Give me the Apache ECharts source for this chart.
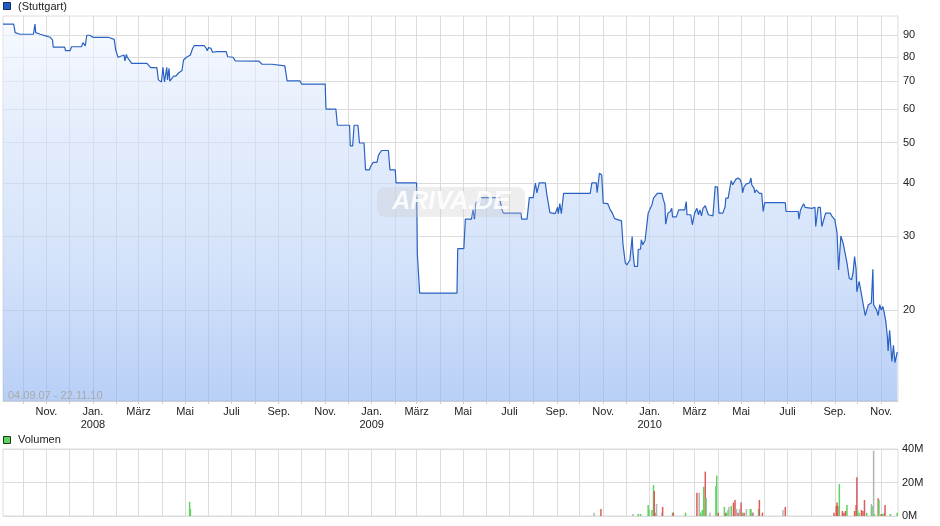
<!DOCTYPE html>
<html><head><meta charset="utf-8">
<script src="https://cdn.jsdelivr.net/npm/echarts@6/dist/echarts.min.js"></script>
<style>html,body{margin:0;padding:0;background:#fff}#c{width:940px;height:526px}</style>
</head><body><div id="c"></div>
<script>
const priceDates = ['2007-09-05','2007-09-19','2007-09-21','2007-09-27','2007-10-15','2007-10-17','2007-10-18','2007-10-24','2007-11-01','2007-11-06','2007-11-09','2007-11-10','2007-11-25','2007-11-26','2007-12-02','2007-12-04','2007-12-17','2007-12-19','2007-12-22','2007-12-24','2007-12-28',
'2008-01-01','2008-01-21','2008-01-29','2008-01-31','2008-02-03','2008-02-11','2008-02-12','2008-02-14','2008-02-15','2008-02-21','2008-03-12','2008-03-14','2008-03-17','2008-03-25','2008-03-27','2008-03-31','2008-04-02','2008-04-04','2008-04-07','2008-04-08','2008-04-10','2008-04-11','2008-04-13','2008-04-16','2008-04-19','2008-04-22','2008-04-27','2008-04-29','2008-05-03','2008-05-08','2008-05-11','2008-05-13','2008-05-26','2008-05-29','2008-05-30','2008-06-01','2008-06-04','2008-06-06','2008-06-11','2008-06-24','2008-06-26','2008-07-03','2008-07-06','2008-08-06','2008-08-10','2008-08-23','2008-08-25','2008-09-09','2008-09-12','2008-09-29','2008-10-01','2008-11-01','2008-11-02','2008-11-15','2008-11-17','2008-12-03','2008-12-04','2008-12-07','2008-12-09','2008-12-14','2008-12-16','2008-12-22','2008-12-24','2008-12-29','2008-12-31',
'2009-01-03','2009-01-08','2009-01-10','2009-01-14','2009-01-23','2009-01-25','2009-02-01','2009-02-02','2009-03-01','2009-03-02','2009-03-05','2009-04-23','2009-04-24','2009-05-02','2009-05-04','2009-05-12','2009-05-14','2009-05-16','2009-05-18','2009-05-21','2009-05-23','2009-06-18','2009-06-21','2009-06-23','2009-07-16','2009-07-17','2009-07-24','2009-07-27','2009-08-01','2009-08-04','2009-08-06','2009-08-09','2009-08-17','2009-08-19','2009-08-23','2009-08-30','2009-09-02','2009-09-03','2009-09-05','2009-09-07','2009-09-10','2009-10-15','2009-10-17','2009-10-23','2009-10-24','2009-10-27','2009-10-30','2009-11-01','2009-11-07','2009-11-10','2009-11-13','2009-11-16','2009-11-18','2009-11-25','2009-11-27','2009-11-30','2009-12-02','2009-12-06','2009-12-09','2009-12-10','2009-12-12','2009-12-16','2009-12-17','2009-12-20','2009-12-21','2009-12-23','2009-12-26','2009-12-28','2009-12-30',
'2010-01-01','2010-01-04','2010-01-06','2010-01-08','2010-01-11','2010-01-17','2010-01-19','2010-01-21','2010-01-22','2010-01-25','2010-01-28','2010-01-30','2010-01-31','2010-02-05','2010-02-08','2010-02-16','2010-02-18','2010-02-19','2010-02-24','2010-02-26','2010-03-01','2010-03-04','2010-03-06','2010-03-08','2010-03-10','2010-03-12','2010-03-15','2010-03-17','2010-03-19','2010-03-25','2010-03-28','2010-03-31','2010-04-02','2010-04-07','2010-04-10','2010-04-11','2010-04-14','2010-04-18','2010-04-20','2010-04-22','2010-04-24','2010-04-27','2010-04-30','2010-05-02','2010-05-03','2010-05-05','2010-05-08','2010-05-12','2010-05-14','2010-05-15','2010-05-18','2010-05-19','2010-05-21','2010-05-25','2010-05-28','2010-05-30','2010-06-01','2010-06-28','2010-06-29','2010-07-15','2010-07-16','2010-07-18','2010-07-22','2010-07-24','2010-08-02','2010-08-06','2010-08-07','2010-08-10','2010-08-13','2010-08-15','2010-08-17','2010-08-20','2010-08-26','2010-08-28','2010-09-01','2010-09-04','2010-09-06','2010-09-09','2010-09-12','2010-09-14','2010-09-17','2010-09-18','2010-09-20','2010-09-23','2010-09-25','2010-09-27','2010-09-29','2010-09-30','2010-10-03','2010-10-05','2010-10-08','2010-10-11','2010-10-13','2010-10-15','2010-10-19','2010-10-21','2010-10-22','2010-10-26','2010-10-28','2010-10-30','2010-11-01','2010-11-03','2010-11-05','2010-11-07','2010-11-09','2010-11-10','2010-11-12','2010-11-15','2010-11-17','2010-11-19','2010-11-20','2010-11-22'];

const prices = [95.7,95.7,91.3,90.5,90.5,95.7,91.3,90.5,89.6,89.0,87.7,84.3,84.3,82.7,82.7,84.5,84.5,86.4,84.9,90.0,90.0,
89.0,89.0,88.0,83.0,79.8,80.8,78.2,81.1,79.8,77.2,77.2,76.5,75.4,75.4,70.5,69.7,75.5,69.7,75.5,70.5,75.1,70.0,69.7,72.0,72.0,73.1,74.2,78.6,79.8,80.8,83.8,85.0,85.0,83.8,82.7,84.1,83.8,82.0,82.3,82.3,80.0,79.8,78.2,78.1,76.8,76.8,76.1,76.1,70.1,70.1,68.9,68.9,60.1,60.1,55.0,55.0,49.1,49.1,55.0,55.0,49.9,49.9,43.1,43.1,44.0,
44.9,44.9,46.7,47.9,47.9,43.1,43.1,40.1,40.1,27.1,21.95,21.95,28.0,28.0,32.9,32.9,34.6,32.9,36.0,36.2,37.0,37.0,34.7,34.0,34.0,32.9,32.9,37.0,37.0,40.1,38.0,40.1,40.1,37.6,34.1,33.9,35.1,33.9,35.8,33.9,37.9,37.9,40.1,40.1,38.0,42.3,41.9,35.9,35.8,34.7,34.0,33.0,32.8,32.6,28.6,25.9,25.6,26.3,29.9,27.5,25.4,25.4,27.9,27.9,29.4,28.6,29.3,29.4,34.0,
33.7,35.6,36.9,36.6,37.9,37.9,36.6,35.6,32.0,34.0,34.3,34.9,33.3,33.3,34.6,34.6,36.2,33.7,33.7,31.9,34.0,34.9,33.7,34.6,33.5,34.9,35.4,35.3,33.7,33.5,39.3,39.2,34.0,34.0,35.2,36.9,36.9,40.6,39.7,39.3,40.9,41.2,40.8,39.7,38.0,39.3,39.9,40.1,41.2,39.7,39.0,38.0,38.6,37.9,37.9,34.3,36.0,36.0,34.3,34.3,32.9,34.6,35.8,35.1,34.9,35.1,31.6,35.1,35.1,31.6,31.6,34.0,34.0,33.5,32.8,30.5,24.9,30.0,28.8,27.6,25.9,25.2,23.8,23.6,24.5,26.8,25.0,22.1,23.4,23.2,20.8,19.4,19.5,20.6,20.8,25.0,20.6,20.0,19.4,20.6,20.0,20.4,19.7,18.8,17.3,16.0,17.9,15.1,16.5,15.0,15.0,15.9];

const priceTicks = [20, 30, 40, 50, 60, 70, 80, 90];

const volDates = ['2008-05-07','2008-05-08','2009-10-20','2009-10-29','2009-12-10','2009-12-17','2009-12-20','2009-12-30','2009-12-31','2010-01-04','2010-01-06','2010-01-07','2010-01-08','2010-01-10','2010-01-17','2010-01-18','2010-01-31','2010-02-01','2010-02-17','2010-03-04','2010-03-07','2010-03-09','2010-03-11','2010-03-13','2010-03-15','2010-03-16','2010-03-21','2010-03-29','2010-03-30','2010-04-01','2010-04-09','2010-04-11','2010-04-12','2010-04-14','2010-04-15','2010-04-18','2010-04-21','2010-04-23','2010-04-25','2010-04-27','2010-04-29','2010-05-01','2010-05-03','2010-05-05','2010-05-08','2010-05-13','2010-05-14','2010-05-16','2010-05-17','2010-05-24','2010-05-25','2010-05-29','2010-06-25','2010-06-28','2010-08-31','2010-09-03','2010-09-04','2010-09-05','2010-09-07','2010-09-11','2010-09-13','2010-09-15','2010-09-17','2010-09-27','2010-09-29','2010-09-30','2010-10-01','2010-10-03','2010-10-06','2010-10-08','2010-10-10','2010-10-13','2010-10-19','2010-10-20','2010-10-22','2010-10-23','2010-10-28','2010-10-29','2010-11-01','2010-11-03','2010-11-05','2010-11-06','2010-11-13','2010-11-22'];
const volumes = [8.5,4.2,2.0,4.2,1.2,1.2,1.2,6.6,3.6,3.6,18.5,14.9,2.0,7.2,2.0,5.4,2.0,2.0,2.0,13.9,13.9,2.0,3.6,17.5,26.5,10.9,2.0,17.9,24.1,2.0,5.4,2.0,2.0,3.6,5.4,6.0,8.0,9.6,4.2,2.0,4.2,8.0,2.0,2.0,4.2,4.2,4.2,2.0,2.0,4.2,9.6,2.0,3.6,5.4,2.0,6.0,8.0,6.0,19.1,3.0,2.0,3.0,6.6,3.0,6.6,23.1,3.6,2.0,3.6,3.0,9.6,2.0,7.2,6.0,39.0,1.2,10.6,9.6,1.2,1.2,2.0,6.6,1.2,2.0];
const volDir = [1,1,0,-1,0,1,1,1,1,1, 1,-1,-1,0,0,-1,1,-1,1,-1, 0,1,1,1,-1,1,0,1,1,-1, 1,-1,1,1,0,1,-1,-1,0,-1, 0,-1,1,-1,0,1,1,-1,0,1, -1,-1,0,-1,-1,-1,-1,-1,1,-1, -1,-1,1,-1,-1,-1,1,1,-1,-1, -1,1,0,1,0,1,-1,1,-1,1, 1,-1,1,1];
const volTicks = [0, 20, 40];

const monthNames = ['Jan.','Feb.','März','Apr.','Mai','Juni','Juli','Aug.','Sep.','Okt.','Nov.','Dez.'];
function ts(s) { const p = s.split('-'); return new Date(+p[0], +p[1] - 1, +p[2]).getTime(); }
const xMin = new Date(2007, 8, 5).getTime();
const xMax = new Date(2010, 10, 23).getTime();
const monthStarts = [];
for (let y = 2007; y <= 2010; y++) for (let m = 0; m < 12; m++) {
  const t = new Date(y, m, 1).getTime();
  if (t > xMin && t < xMax) monthStarts.push(t);
}
const labelStarts = monthStarts.filter(t => new Date(t).getMonth() % 2 === 0);
function fmtMonth(v) {
  const d = new Date(v); const m = d.getMonth();
  return m === 0 ? 'Jan.\n' + d.getFullYear() : monthNames[m];
}

const FONT = '"Liberation Sans", Arial, sans-serif';
const GRID = '#dcdcdc';
const chart = echarts.init(document.getElementById('c'), null, {renderer: 'canvas'});
const fill = new echarts.graphic.LinearGradient(0, 16, 0, 401, [
  {offset: 0, color: 'rgba(243,247,255,0.6)'},
  {offset: 0.3, color: 'rgba(210,225,250,0.6)'},
  {offset: 0.66, color: 'rgba(182,207,247,0.6)'},
  {offset: 1, color: 'rgba(137,175,240,0.6)'}
], true);

chart.setOption({
  animation: false,
  textStyle: {fontFamily: FONT},
  grid: [
    {left: 3, top: 16, width: 895, height: 385, show: true, borderColor: GRID, borderWidth: 1},
    {left: 3, top: 449, width: 895, height: 67, show: true, borderColor: GRID, borderWidth: 1}
  ],
  xAxis: [
    {type: 'value', gridIndex: 0, min: xMin, max: xMax, scale: true,
     axisLine: {show: true, onZero: false, lineStyle: {color: '#d0d0d0'}},
     axisTick: {show: true, customValues: monthStarts, length: 3, lineStyle: {color: '#cccccc'}},
     axisLabel: {customValues: labelStarts, formatter: fmtMonth, color: '#222', fontSize: 11, margin: 4, lineHeight: 13, fontFamily: FONT},
     splitLine: {show: true, lineStyle: {color: GRID}}},
    {type: 'value', gridIndex: 1, min: xMin, max: xMax, scale: true,
     axisLine: {show: false}, axisTick: {show: false, customValues: monthStarts},
     axisLabel: {show: false, customValues: monthStarts}, splitLine: {show: true, lineStyle: {color: GRID}}}
  ],
  yAxis: [
    {type: 'log', gridIndex: 0, min: 12.16, max: 100, position: 'right',
     axisLine: {show: false}, axisTick: {show: false}, axisLabel: {show: false}, splitLine: {show: false}},
    {type: 'value', gridIndex: 1, min: 0, max: 40, interval: 20, position: 'right',
     axisLine: {show: false}, axisTick: {show: false},
     axisLabel: {formatter: '{value}M', color: '#222', fontSize: 11, margin: 4, fontFamily: FONT},
     splitLine: {show: true, lineStyle: {color: GRID}}}
  ],
  series: [
    {type: 'line', xAxisIndex: 0, yAxisIndex: 0, z: 2,
     data: priceDates.map((d, i) => [ts(d), prices[i]]),
     symbol: 'none', showSymbol: false,
     lineStyle: {color: '#2a62c4', width: 1.2},
     areaStyle: {color: fill, origin: 'start', opacity: 1},
     markLine: {silent: true, symbol: 'none', z: 1, animation: false,
       lineStyle: {color: GRID, type: 'solid', width: 1},
       label: {position: 'end', formatter: '{c}', color: '#222', fontSize: 11, distance: 5, fontFamily: FONT},
       emphasis: {disabled: true},
       data: priceTicks.map(v => ({yAxis: v}))}},
    {type: 'bar', xAxisIndex: 1, yAxisIndex: 1, barWidth: 1.5,
     data: volDates.map((d, i) => [ts(d), volumes[i]]),
     itemStyle: {color: p => volDir[p.dataIndex] > 0 ? '#5fd35f' : (volDir[p.dataIndex] < 0 ? '#dc5a5a' : '#b4b4b4')}}
  ],
  graphic: [
    {type: 'rect', z: 100, shape: {x: 3.5, y: 2.5, width: 7, height: 7}, style: {fill: '#1f5cc4', stroke: '#1a2a5a', lineWidth: 1}},
    {type: 'text', z: 100, x: 18, y: 6.5, style: {text: '(Stuttgart)', fill: '#222', font: '11px ' + FONT, verticalAlign: 'middle'}},
    {type: 'rect', z: 100, shape: {x: 3.5, y: 436.5, width: 7, height: 7}, style: {fill: '#5fd35f', stroke: '#1a3a1a', lineWidth: 1}},
    {type: 'text', z: 100, x: 18, y: 440, style: {text: 'Volumen', fill: '#222', font: '11px ' + FONT, verticalAlign: 'middle'}},
    {type: 'text', z: 100, x: 8, y: 395.5, style: {text: '04.09.07 - 22.11.10', fill: '#aaaaaa', font: '11px ' + FONT, verticalAlign: 'middle'}},
    {type: 'rect', z: 50, shape: {x: 377, y: 187, width: 148, height: 30, r: 8}, style: {fill: 'rgba(200,200,200,0.3)'}},
    {type: 'text', z: 51, x: 451, y: 202, style: {text: 'ARIVA.DE', fill: 'rgba(255,255,255,0.85)', font: 'italic bold 25px ' + FONT, align: 'center', verticalAlign: 'middle'}}
  ]
});
</script></body></html>
